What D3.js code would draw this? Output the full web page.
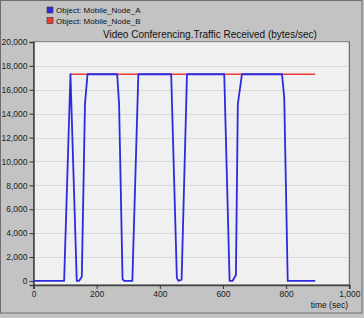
<!DOCTYPE html>
<html>
<head>
<meta charset="utf-8">
<script src="https://cdn.jsdelivr.net/npm/d3@7"></script>
<style>
  body { margin: 0; background: #c3c3c3; }
  svg { display: block; font-family: "Liberation Sans", Arial, sans-serif; }
</style>
</head>
<body>
<svg id="chart" width="364" height="318"></svg>
<script>
// values
var seriesNames = ["Object: Mobile_Node_A", "Object: Mobile_Node_B"];
var seriesColors = ["#2b2be0", "#f03a3a"];

var nodeA_t = [0, 97, 117, 137, 144, 153, 163, 171, 265, 271, 282, 287, 313, 332, 436, 454, 459, 469, 486, 604, 621, 630, 641, 647, 660, 787, 794, 805, 892];
var nodeA_v = [0, 0, 17300, 0, 0, 360, 14800, 17300, 17300, 14800, 150, 0, 0, 17300, 17300, 250, 0, 100, 17300, 17300, 0, 0, 500, 14800, 17300, 17300, 15300, 0, 0];

var nodeB_t = [117, 892];
var nodeB_v = [17300, 17300];

var yTicks = [0, 2000, 4000, 6000, 8000, 10000, 12000, 14000, 16000, 18000, 20000];
var xTicks = [0, 200, 400, 600, 800, 1000];

var svg = d3.select("#chart");

var plotLeft = 33.5, plotRight = 349.3, plotTop = 42, plotBottom = 285;

var x = d3.scaleLinear().domain([0, 1000]).range([plotLeft, plotRight]);
var y = d3.scaleLinear().domain([-340, 20000]).range([plotBottom, plotTop]);

// outer frame
svg.append("rect")
    .attr("x", 0.5).attr("y", 0.5)
    .attr("width", 361.5).attr("height", 312.5)
    .attr("fill", "#c3c3c3")
    .attr("stroke", "#6e6e6e");

// plot area
svg.append("rect")
    .attr("x", plotLeft).attr("y", plotTop)
    .attr("width", plotRight - plotLeft).attr("height", plotBottom - plotTop)
    .attr("fill", "#f0f0f0")
    .attr("stroke", "#555")
    .attr("stroke-width", 1);

// grid
svg.append("g").selectAll("line")
    .data(yTicks.slice(1))
    .enter()
    .append("line")
    .attr("x1", plotLeft + 1).attr("x2", plotRight - 1)
    .attr("y1", function(d) { return Math.round(y(d)) + 0.5; })
    .attr("y2", function(d) { return Math.round(y(d)) + 0.5; })
    .attr("stroke", "#dadada");

// axes
var yAxis = svg.append("g")
    .attr("transform", "translate(" + plotLeft + ",0)")
    .call(d3.axisLeft(y).tickValues(yTicks).tickSize(4).tickPadding(2).tickFormat(d3.format(",")));

var xAxis = svg.append("g")
    .attr("transform", "translate(0," + plotBottom + ")")
    .call(d3.axisBottom(x).tickValues(xTicks).tickSize(4).tickPadding(2).tickFormat(d3.format(",")));

[yAxis, xAxis].forEach(function(a) {
    a.select(".domain").attr("stroke", "#444").attr("stroke-width", 1.5);
    a.selectAll(".tick line").attr("stroke", "#333");
    a.selectAll("text").attr("fill", "#222").attr("font-size", "8.5px").attr("font-family", "Liberation Sans, Arial, sans-serif");
});

// lines
var line = d3.line()
    .x(function(d) { return x(d[0]); })
    .y(function(d) { return y(d[1]); });

var dataB = nodeB_t.map(function(t, i) { return [t, nodeB_v[i]]; });
var dataA = nodeA_t.map(function(t, i) { return [t, nodeA_v[i]]; });

svg.append("path")
    .attr("d", line(dataB))
    .attr("fill", "none")
    .attr("stroke", seriesColors[1])
    .attr("stroke-width", 1.5);

svg.append("path")
    .attr("d", line(dataA))
    .attr("fill", "none")
    .attr("stroke", seriesColors[0])
    .attr("stroke-width", 1.8)
    .attr("stroke-linejoin", "round");

// title
svg.append("text")
    .attr("x", 103).attr("y", 38)
    .attr("font-size", "10px")
    .attr("fill", "#111")
    .text("Video Conferencing.Traffic Received (bytes/sec)");

svg.append("text")
    .attr("x", 348).attr("y", 308)
    .attr("text-anchor", "end")
    .attr("font-size", "8.5px")
    .attr("fill", "#111")
    .text("time (sec)");

// legend
var legend = svg.append("g").selectAll("g")
    .data(seriesNames)
    .enter()
    .append("g")
    .attr("transform", function(d, i) { return "translate(47," + (7 + i * 10.5) + ")"; });

legend.append("rect")
    .attr("width", 6).attr("height", 6)
    .attr("fill", function(d, i) { return seriesColors[i]; })
    .attr("stroke", "#333")
    .attr("stroke-width", 0.6);

legend.append("text")
    .attr("x", 9).attr("y", 6)
    .attr("font-size", "8px")
    .attr("fill", "#111")
    .text(function(d) { return d; });
</script>
</body>
</html>
